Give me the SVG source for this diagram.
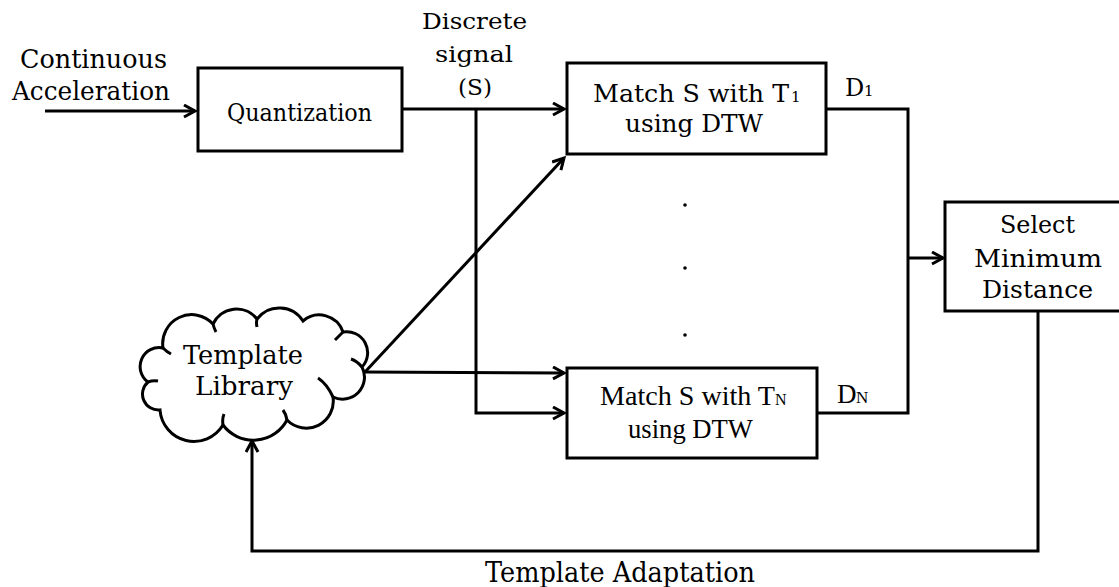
<svg xmlns="http://www.w3.org/2000/svg" width="1119" height="587" viewBox="0 0 1119 587">
<style>
  .box { fill: #fff; stroke: #000; stroke-width: 3; }
  .ln { fill: none; stroke: #000; stroke-width: 3; stroke-linejoin: miter; }
  .cen { font-family: "DejaVu Serif", "Liberation Serif", serif; fill: #000; }
  .tms { font-family: "Liberation Serif", "Times New Roman", serif; fill: #000; }
</style>
<defs>
  <marker id="arr" markerUnits="userSpaceOnUse" markerWidth="16" markerHeight="16" refX="12" refY="7" orient="auto">
    <path d="M1,1 L12,7 L1,13" fill="none" stroke="#000" stroke-width="3"/>
  </marker>
</defs>
<rect width="1119" height="587" fill="#fff"/>

<g id="connectors">
  <path class="ln" d="M45,111 L195,111" marker-end="url(#arr)"/>
  <path class="ln" d="M402,109 L564,109" marker-end="url(#arr)"/>
  <path class="ln" d="M476,109 L476,413 L564,413" marker-end="url(#arr)"/>
  <path class="ln" d="M365,372 L564,158" marker-end="url(#arr)"/>
  <path class="ln" d="M365,372 L564,373" marker-end="url(#arr)"/>
  <path class="ln" d="M826,109 L908,109 L908,413 L817,413"/>
  <path class="ln" d="M908,258 L943,258" marker-end="url(#arr)"/>
  <path class="ln" d="M1038,311 L1038,551 L252,551 L252,441" marker-end="url(#arr)"/>
</g>

<g id="input-label">
  <text class="cen" x="20" y="68" font-size="26" textLength="147" lengthAdjust="spacingAndGlyphs">Continuous</text>
  <text class="cen" x="12" y="100" font-size="26" textLength="158" lengthAdjust="spacingAndGlyphs">Acceleration</text>
</g>

<g id="quantization">
  <rect class="box" x="198" y="68" width="204" height="83"/>
  <text class="cen" x="227" y="121" font-size="24" textLength="145" lengthAdjust="spacingAndGlyphs">Quantization</text>
</g>

<g id="discrete-label">
  <text class="cen" x="422" y="29" font-size="23" textLength="105" lengthAdjust="spacingAndGlyphs">Discrete</text>
  <text class="cen" x="435" y="62" font-size="23" textLength="78" lengthAdjust="spacingAndGlyphs">signal</text>
  <text class="cen" x="458" y="95" font-size="23" textLength="34" lengthAdjust="spacingAndGlyphs">(S)</text>
</g>

<g id="match1">
  <rect class="box" x="567" y="63" width="259" height="91"/>
  <text class="cen" x="593" y="102" font-size="24" textLength="196" lengthAdjust="spacingAndGlyphs">Match S with T</text>
  <text class="cen" x="791" y="102" font-size="15">1</text>
  <text class="cen" x="625" y="132" font-size="24" textLength="138" lengthAdjust="spacingAndGlyphs">using DTW</text>
</g>

<g id="d1-label">
  <text class="cen" x="845" y="96" font-size="24">D</text>
  <text class="cen" x="864" y="96" font-size="15">1</text>
</g>

<g id="dots">
  <circle cx="685" cy="205" r="1.8" fill="#000"/>
  <circle cx="685" cy="268" r="1.8" fill="#000"/>
  <circle cx="685" cy="335" r="1.8" fill="#000"/>
</g>

<g id="matchN">
  <rect class="box" x="567" y="368" width="250" height="90"/>
  <text class="tms" x="600" y="405" font-size="27" textLength="175" lengthAdjust="spacingAndGlyphs">Match S with T</text>
  <text class="tms" x="775" y="405" font-size="16">N</text>
  <text class="tms" x="628" y="438" font-size="27" textLength="125" lengthAdjust="spacingAndGlyphs">using DTW</text>
</g>

<g id="dn-label">
  <text class="tms" x="837" y="403" font-size="27">D</text>
  <text class="tms" x="856" y="403" font-size="17">N</text>
</g>

<g id="select">
  <rect class="box" x="945" y="202" width="180" height="109"/>
  <text class="cen" x="1000" y="233" font-size="25" textLength="75" lengthAdjust="spacingAndGlyphs">Select</text>
  <text class="cen" x="974" y="267" font-size="25" textLength="128" lengthAdjust="spacingAndGlyphs">Minimum</text>
  <text class="cen" x="982" y="298" font-size="25" textLength="111" lengthAdjust="spacingAndGlyphs">Distance</text>
</g>

<g id="library">
  <path class="box" d="M163,348 A19,19 0 0 0 148,382 A16,16 0 0 0 160,410 A34,34 0 0 0 223,425 A38,38 0 0 0 287,420 A27,27 0 0 0 333,397 A22,22 0 0 0 362,367 A21,21 0 0 0 343,332 A25,25 0 0 0 303,321 A28,28 0 0 0 257,319 A26,26 0 0 0 213,324 A29,29 0 0 0 163,348 Z"/>
  <path class="ln" d="M163,348 Q167,352 171,354 M148,382 Q153,380 158,381 M223,425 Q222,419 224,414 M287,420 Q286,414 283,410 M333,397 Q327,384 318,378 M362,367 Q357,361 351,359 M343,332 Q339,336 335,340 M257,319 Q256,323 257,327 M213,324 Q214,328 216,332"/>
  <text class="cen" x="183" y="364" font-size="26" textLength="120" lengthAdjust="spacingAndGlyphs">Template</text>
  <text class="cen" x="195" y="395" font-size="26" textLength="98" lengthAdjust="spacingAndGlyphs">Library</text>
</g>

<g id="adaptation-label">
  <text class="cen" x="485" y="582" font-size="27" textLength="270" lengthAdjust="spacingAndGlyphs">Template Adaptation</text>
</g>
</svg>
